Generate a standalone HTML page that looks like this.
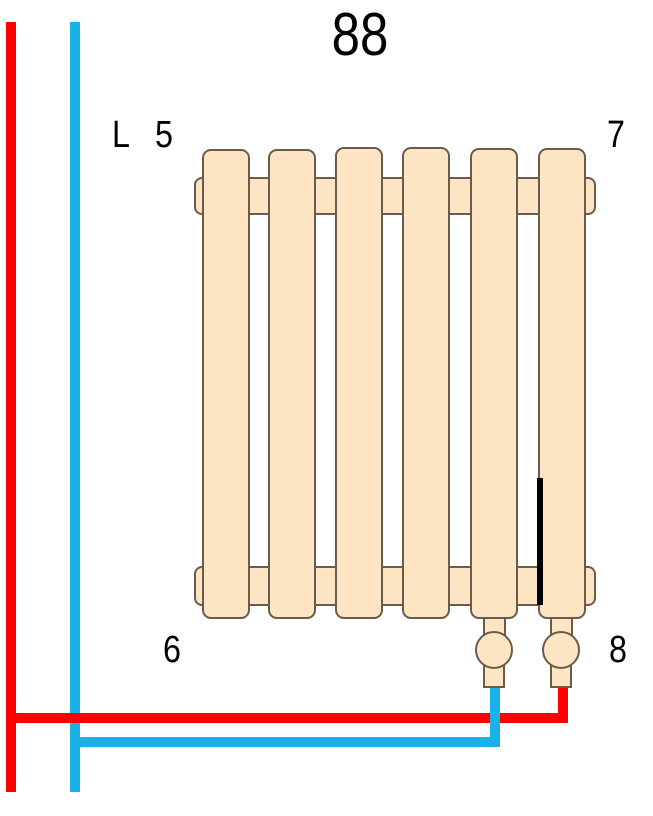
<!DOCTYPE html>
<html><head><style>
html,body{margin:0;padding:0;background:#fff;width:653px;height:816px;overflow:hidden}
</style></head><body>
<svg width="653" height="816" viewBox="0 0 653 816" xmlns="http://www.w3.org/2000/svg" font-family="Liberation Sans, sans-serif">
<rect width="653" height="816" fill="#fff"/>
<rect x="6" y="22" width="10" height="770" fill="#ff0000"/>
<rect x="70" y="22" width="10" height="770" fill="#1ab0e8"/>
<path d="M6 718 H563 V686" fill="none" stroke="#ff0000" stroke-width="10"/>
<path d="M75 742 H495 V686" fill="none" stroke="#1ab0e8" stroke-width="10"/>
<g fill="#fde4c3" stroke="#6b5b4b" stroke-width="2">
<rect x="195" y="178" width="400" height="36" rx="7"/>
<rect x="195" y="567" width="400" height="38" rx="7"/>
<rect x="203" y="150" width="46" height="468" rx="8"/>
<rect x="269" y="150" width="46" height="468" rx="8"/>
<rect x="336" y="148" width="46" height="470" rx="8"/>
<rect x="403" y="148" width="46" height="470" rx="8"/>
<rect x="471" y="149" width="46" height="469" rx="8"/>
<rect x="539" y="149" width="46" height="469" rx="8"/>
<rect x="484" y="618" width="21" height="24"/>
<rect x="484" y="658" width="20" height="29"/>
<circle cx="494" cy="650" r="18"/>
<rect x="551" y="618" width="21" height="24"/>
<rect x="551" y="658" width="20" height="29"/>
<circle cx="561" cy="650" r="18"/>
</g>
<rect x="537" y="478" width="6" height="127" fill="#000"/>
<g fill="#000">
<g transform="translate(360,55) scale(0.85,1)"><text x="0" y="0" font-size="60" text-anchor="middle">88</text></g>
<g transform="translate(112,147) scale(0.85,1)"><text x="0" y="0" font-size="38">L</text></g>
<g transform="translate(155,147) scale(0.85,1)"><text x="0" y="0" font-size="38">5</text></g>
<g transform="translate(607,147) scale(0.85,1)"><text x="0" y="0" font-size="38">7</text></g>
<g transform="translate(163,662) scale(0.85,1)"><text x="0" y="0" font-size="38">6</text></g>
<g transform="translate(609,662) scale(0.85,1)"><text x="0" y="0" font-size="38">8</text></g>
</g>
</svg>
</body></html>
